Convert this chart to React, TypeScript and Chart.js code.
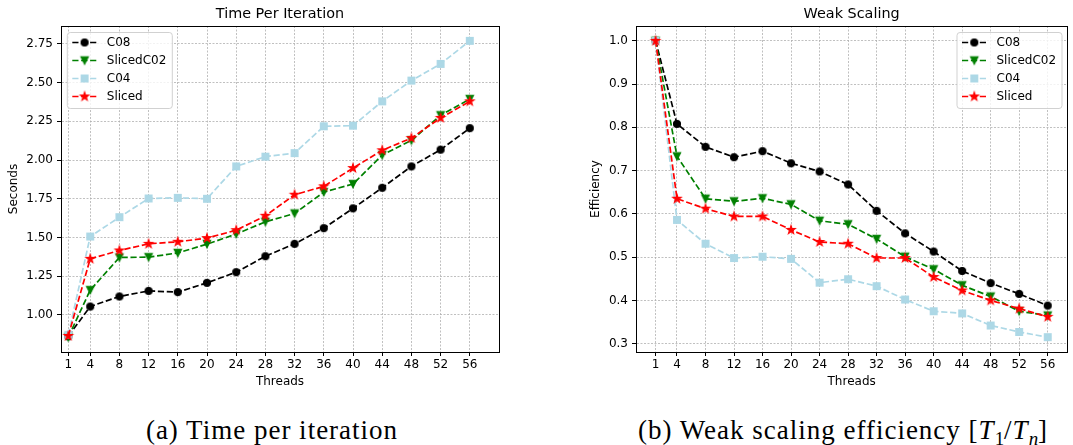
import React, { useEffect, useRef } from "react";
import { Chart, registerables } from "chart.js";

Chart.register(...registerables);

// ---------------- data ----------------
const THREADS = [1, 4, 8, 12, 16, 20, 24, 28, 32, 36, 40, 44, 48, 52, 56];
const X_TICKS = [1, 4, 8, 12, 16, 20, 24, 28, 32, 36, 40, 44, 48, 52, 56];

const SERIES_NAMES = ["C08", "SlicedC02", "C04", "Sliced"];
const SERIES_COLORS = ["#000000", "#008000", "#add8e6", "#ff0000"];
const SERIES_MARKERS = ["circle", "triangleDown", "square", "star"];

const TIME_C08 = [0.862, 1.054, 1.119, 1.155, 1.147, 1.207, 1.276, 1.379, 1.459, 1.56, 1.688, 1.821, 1.959, 2.067, 2.206];
const TIME_SLICEDC02 = [0.856, 1.16, 1.371, 1.373, 1.4, 1.457, 1.522, 1.601, 1.655, 1.793, 1.845, 2.032, 2.127, 2.289, 2.394];
const TIME_C04 = [0.871, 1.506, 1.631, 1.752, 1.756, 1.75, 1.959, 2.022, 2.045, 2.218, 2.222, 2.379, 2.513, 2.621, 2.77];
const TIME_SLICED = [0.864, 1.362, 1.416, 1.459, 1.472, 1.496, 1.547, 1.64, 1.776, 1.83, 1.948, 2.063, 2.142, 2.272, 2.379];

const EFF_C08 = [1.0, 0.808, 0.755, 0.731, 0.745, 0.717, 0.698, 0.668, 0.607, 0.555, 0.513, 0.468, 0.44, 0.415, 0.388];
const EFF_SLICEDC02 = [1.0, 0.733, 0.635, 0.629, 0.636, 0.622, 0.584, 0.576, 0.542, 0.501, 0.472, 0.435, 0.409, 0.375, 0.365];
const EFF_C04 = [1.0, 0.586, 0.531, 0.498, 0.501, 0.496, 0.441, 0.449, 0.433, 0.402, 0.375, 0.37, 0.342, 0.327, 0.315];
const EFF_SLICED = [1.0, 0.635, 0.612, 0.594, 0.594, 0.563, 0.535, 0.531, 0.498, 0.498, 0.454, 0.423, 0.4, 0.381, 0.362];

const TIME_Y_TICKS = [1.0, 1.25, 1.5, 1.75, 2.0, 2.25, 2.5, 2.75];
const EFF_Y_TICKS = [0.3, 0.4, 0.5, 0.6, 0.7, 0.8, 0.9, 1.0];

// ---------------- styling ----------------
const FONT = "'DejaVu Sans', sans-serif";
const TEXT_SIZE = 12;
const TITLE_SIZE = 14.4;
const LINE_DASH = [6.2, 2.7];
const LINE_WIDTH = 1.7;

function makeMarker(kind: string, color: string): HTMLCanvasElement {
  const s = 14;
  const c = document.createElement("canvas");
  c.width = s;
  c.height = s;
  const ctx = c.getContext("2d")!;
  const m = s / 2;
  ctx.fillStyle = color;
  ctx.strokeStyle = color;
  ctx.lineWidth = 1.1;
  ctx.beginPath();
  if (kind === "circle") {
    ctx.arc(m, m, 3.5, 0, Math.PI * 2);
  } else if (kind === "square") {
    ctx.rect(m - 3.4, m - 3.4, 6.8, 6.8);
  } else if (kind === "triangleDown") {
    ctx.moveTo(m, m + 3.7);
    ctx.lineTo(m - 3.7, m - 3.7);
    ctx.lineTo(m + 3.7, m - 3.7);
    ctx.closePath();
  } else {
    for (let i = 0; i < 10; i++) {
      const r = i % 2 === 0 ? 4.4 : 1.7;
      const a = -Math.PI / 2 + (i * Math.PI) / 5;
      const x = m + r * Math.cos(a);
      const y = m + r * Math.sin(a);
      if (i === 0) ctx.moveTo(x, y);
      else ctx.lineTo(x, y);
    }
    ctx.closePath();
  }
  ctx.fill();
  ctx.stroke();
  return c;
}

function paddedRange(arrays: number[][]) {
  let lo = Infinity;
  let hi = -Infinity;
  arrays.forEach((a) => a.forEach((v) => { lo = Math.min(lo, v); hi = Math.max(hi, v); }));
  const m = (hi - lo) * 0.05;
  return [lo - m, hi + m];
}

const decorPlugin = {
  id: "decor",
  afterDraw(chart: any, _args: any, opts: any) {
    const { ctx, chartArea: a } = chart;
    ctx.save();
    // frame (all four spines)
    const al = (p: number) => Math.round(p - 0.5) + 0.5;
    ctx.strokeStyle = "#000";
    ctx.lineWidth = 1;
    ctx.setLineDash([]);
    ctx.strokeRect(al(a.left), al(a.top), al(a.right) - al(a.left), al(a.bottom) - al(a.top));

    // title
    ctx.fillStyle = "#000";
    ctx.font = `${TITLE_SIZE}px ${FONT}`;
    ctx.textAlign = "center";
    ctx.textBaseline = "middle";
    ctx.fillText(opts.title, (a.left + a.right) / 2, opts.titleY);

    // legend
    const bw = 105;
    const bh = 76;
    const bx = opts.corner === "left" ? a.left + 6.3 : a.right - 110.3;
    const by = a.top + 6.5;
    ctx.beginPath();
    const r = 3;
    ctx.moveTo(bx + r, by);
    ctx.lineTo(bx + bw - r, by);
    ctx.arcTo(bx + bw, by, bx + bw, by + r, r);
    ctx.lineTo(bx + bw, by + bh - r);
    ctx.arcTo(bx + bw, by + bh, bx + bw - r, by + bh, r);
    ctx.lineTo(bx + r, by + bh);
    ctx.arcTo(bx, by + bh, bx, by + bh - r, r);
    ctx.lineTo(bx, by + r);
    ctx.arcTo(bx, by, bx + r, by, r);
    ctx.closePath();
    ctx.fillStyle = "rgba(255,255,255,0.8)";
    ctx.fill();
    ctx.strokeStyle = "rgba(204,204,204,0.9)";
    ctx.lineWidth = 1;
    ctx.stroke();

    chart.data.datasets.forEach((ds: any, i: number) => {
      const y = by + 10 + 18 * i;
      ctx.beginPath();
      ctx.setLineDash(LINE_DASH);
      ctx.strokeStyle = ds.borderColor;
      ctx.lineWidth = LINE_WIDTH;
      ctx.moveTo(bx + 5, y);
      ctx.lineTo(bx + 29.5, y);
      ctx.stroke();
      ctx.setLineDash([]);
      const mk = ds.pointStyle as HTMLCanvasElement;
      ctx.drawImage(mk, bx + 17.3 - mk.width / 2, y - mk.height / 2);
      ctx.fillStyle = "#000";
      ctx.font = `${TEXT_SIZE}px ${FONT}`;
      ctx.textAlign = "left";
      ctx.textBaseline = "middle";
      ctx.fillText(ds.label, bx + 39.5, y);
    });
    ctx.restore();
  },
};

interface PanelSpec {
  title: string;
  yTitle: string;
  series: number[][];
  yTicks: number[];
  yDecimals: number;
  xRange: number[];
  width: number;
  height: number;
  yAxisWidth: number;
  xAxisHeight: number;
  padRight: number;
  padTop: number;
  yTitleOffset: number;
  corner: string;
}

function Panel({ spec, left }: { spec: PanelSpec; left: number }) {
  const ref = useRef<HTMLCanvasElement>(null);
  useEffect(() => {
    const [yMin, yMax] = paddedRange(spec.series);
    const tickFont = { family: FONT, size: TEXT_SIZE };
    const chart = new Chart(ref.current!, {
      type: "line",
      data: {
        datasets: spec.series.map((arr, i) => ({
          label: SERIES_NAMES[i],
          data: THREADS.map((t, j) => ({ x: t, y: arr[j] })),
          borderColor: SERIES_COLORS[i],
          backgroundColor: SERIES_COLORS[i],
          borderWidth: LINE_WIDTH,
          borderDash: LINE_DASH,
          pointStyle: makeMarker(SERIES_MARKERS[i], SERIES_COLORS[i]),
          pointRadius: 4,
          pointHoverRadius: 4,
          tension: 0,
          fill: false,
          order: 4 - i,
        })),
      },
      options: {
        responsive: false,
        animation: false,
        events: [],
        layout: { padding: { top: spec.padTop, left: 0, right: spec.padRight, bottom: 0 } },
        plugins: {
          legend: { display: false },
          title: { display: false },
          tooltip: { enabled: false },
          decor: { title: spec.title, titleY: 14, corner: spec.corner },
        } as any,
        scales: {
          x: {
            type: "linear",
            min: spec.xRange[0],
            max: spec.xRange[1],
            afterFit: (s: any) => { s.height = spec.xAxisHeight; },
            afterBuildTicks: (s: any) => { s.ticks = X_TICKS.map((v) => ({ value: v })); },
            ticks: {
              autoSkip: false,
              maxRotation: 0,
              padding: 2,
              color: "#000",
              font: tickFont,
              callback: (v: any) => String(v),
            },
            grid: { color: "#b0b0b0", lineWidth: 0.8, tickLength: 4, tickColor: "#000", tickWidth: 1, tickBorderDash: [] },
            border: { display: true, color: "#000", width: 1, dash: [2, 1.5] },
            title: { display: true, text: "Threads", color: "#000", font: tickFont, padding: { top: 0, bottom: 5.6 } },
          },
          y: {
            type: "linear",
            min: yMin,
            max: yMax,
            afterFit: (s: any) => { s.width = spec.yAxisWidth; },
            afterBuildTicks: (s: any) => { s.ticks = spec.yTicks.map((v) => ({ value: v })); },
            ticks: {
              autoSkip: false,
              padding: 4,
              color: "#000",
              font: tickFont,
              callback: (v: any) => Number(v).toFixed(spec.yDecimals),
            },
            grid: { color: "#b0b0b0", lineWidth: 0.8, tickLength: 4, tickColor: "#000", tickWidth: 1, tickBorderDash: [] },
            border: { display: true, color: "#000", width: 1, dash: [2, 1.5] },
            title: { display: true, text: spec.yTitle, color: "#000", font: tickFont, padding: { top: spec.yTitleOffset, bottom: 0 } },
          },
        },
      } as any,
      plugins: [decorPlugin],
    });
    return () => chart.destroy();
  }, []);
  return (
    <canvas
      ref={ref}
      width={spec.width}
      height={spec.height}
      style={{ position: "absolute", left, top: 0, width: spec.width, height: spec.height }}
    />
  );
}

const LEFT_SPEC: PanelSpec = {
  title: "Time Per Iteration",
  yTitle: "Seconds",
  series: [TIME_C08, TIME_SLICEDC02, TIME_C04, TIME_SLICED],
  yTicks: TIME_Y_TICKS,
  yDecimals: 2,
  xRange: [0, 60],
  width: 540,
  height: 395,
  yAxisWidth: 61,
  xAxisHeight: 43,
  padRight: 41,
  padTop: 26,
  yTitleOffset: 7,
  corner: "left",
};

const RIGHT_SPEC: PanelSpec = {
  title: "Weak Scaling",
  yTitle: "Efficiency",
  series: [EFF_C08, EFF_SLICEDC02, EFF_C04, EFF_SLICED],
  yTicks: EFF_Y_TICKS,
  yDecimals: 1,
  xRange: [-1.75, 58.75],
  width: 533,
  height: 395,
  yAxisWidth: 96,
  xAxisHeight: 43,
  padRight: 0,
  padTop: 26,
  yTitleOffset: 49,
  corner: "right",
};

const captionStyle: React.CSSProperties = {
  position: "absolute",
  top: 415,
  width: 500,
  textAlign: "center",
  fontFamily: "'Liberation Serif', serif",
  fontSize: 27,
  lineHeight: "30px",
  letterSpacing: "1px",
  color: "#000",
  whiteSpace: "nowrap",
};

export default function App() {
  return (
    <div style={{ position: "absolute", left: 0, top: 0, width: 1073, height: 445, background: "#fff", overflow: "hidden" }}>
      <Panel spec={LEFT_SPEC} left={0} />
      <Panel spec={RIGHT_SPEC} left={540} />
      <div style={{ ...captionStyle, left: 272 - 250 }}>(a) Time per iteration</div>
      <div style={{ ...captionStyle, left: 843 - 250 }}>
        (b) Weak scaling efficiency [<i>T</i><sub style={{ fontSize: "0.7em", letterSpacing: 0 }}>1</sub>/<i>T</i><sub style={{ fontSize: "0.7em", letterSpacing: 0 }}><i>n</i></sub>]
      </div>
    </div>
  );
}
